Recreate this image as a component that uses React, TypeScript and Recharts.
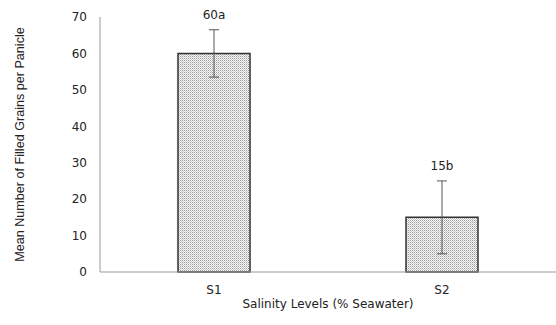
import {
  ComposedChart,
  Bar,
  Line,
  XAxis,
  YAxis,
  ErrorBar,
  LabelList,
} from "recharts";

const levels = ["S1", "S2"];
const meanGrains = [60, 15];
const stdErr = [6.5, 10];
const letters = ["60a", "15b"];
const yTicks = [0, 10, 20, 30, 40, 50, 60, 70];

const data = levels.map((lv, i) => ({
  level: lv,
  grains: meanGrains[i],
  err: stdErr[i],
  top: meanGrains[i] + stdErr[i],
  tag: letters[i],
}));

const tickFont = { fill: "#222", fontSize: 12, fontFamily: "DejaVu Sans" };

export default function App() {
  return (
    <div style={{ position: "absolute", left: 0, top: 0, background: "#fff" }}>
      <ComposedChart
        width={556}
        height={325}
        data={data}
        margin={{ top: 17, right: 0, bottom: 23, left: 30 }}
      >
        <defs>
          <pattern id="dots" width="2" height="2" patternUnits="userSpaceOnUse">
            <rect width="2" height="2" fill="#fafafa" />
            <rect x="0" y="0" width="1" height="1" fill="#999" />
            <rect x="1" y="1" width="1" height="1" fill="#c8c8c8" />
          </pattern>
        </defs>
        <XAxis
          dataKey="level"
          tick={tickFont}
          tickLine={false}
          stroke="#999"
          tickMargin={7}
          label={{
            value: "Salinity Levels (% Seawater)",
            position: "insideBottom",
            offset: -6,
            style: { fill: "#222", fontSize: 12, fontFamily: "DejaVu Sans" },
          }}
        />
        <YAxis
          width={70}
          domain={[0, 70]}
          ticks={yTicks}
          tick={tickFont}
          tickLine={false}
          stroke="#999"
          tickMargin={7}
          label={{
            value: "Mean Number of Filled Grains per Panicle",
            angle: -90,
            position: "insideLeft",
            offset: -10,
            style: {
              fill: "#222",
              fontSize: 12.6,
              fontFamily: "Liberation Sans",
              textAnchor: "middle",
            },
          }}
        />
        <Bar
          dataKey="grains"
          fill="url(#dots)"
          stroke="#333"
          strokeWidth={1.5}
          barSize={72}
          isAnimationActive={false}
        >
          <ErrorBar dataKey="err" width={5} stroke="#555" strokeWidth={1} />
        </Bar>
        <Line
          dataKey="top"
          stroke="none"
          dot={false}
          activeDot={false}
          isAnimationActive={false}
        >
          <LabelList
            dataKey="tag"
            position="top"
            offset={11}
            style={{ fill: "#222", fontSize: 12, fontFamily: "DejaVu Sans" }}
          />
        </Line>
      </ComposedChart>
    </div>
  );
}
